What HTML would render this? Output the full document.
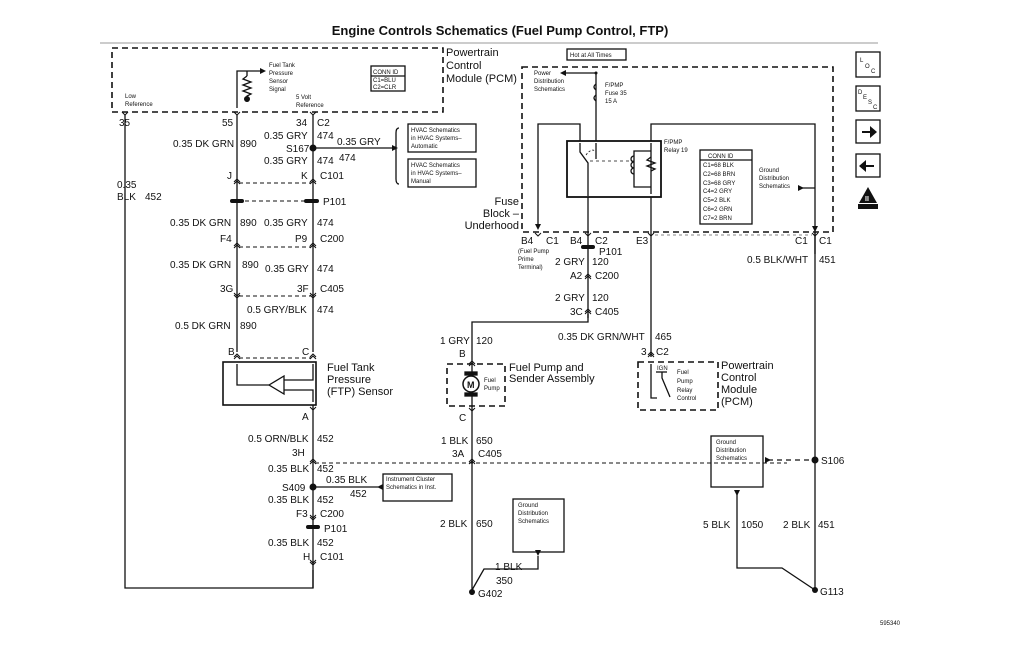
<!DOCTYPE html>
<html><head><meta charset="utf-8"><style>
html,body{margin:0;padding:0;background:#fff}
svg{display:block}
text{font-family:"Liberation Sans",Arial,sans-serif;fill:#111}
.s{font-size:6px}.m{font-size:10px}.l{font-size:11px}
</style></head><body>
<svg width="1029" height="645" viewBox="0 0 1029 645" xmlns="http://www.w3.org/2000/svg">
<defs>
<path id="cu" d="M-3,3 L0,0 L3,3 M-3,5 L0,2 L3,5" fill="none" stroke="#111" stroke-width="1"/>
<path id="cd" d="M-3,-3 L0,0 L3,-3 M-3,-5 L0,-2 L3,-5" fill="none" stroke="#111" stroke-width="1"/>
<path id="cy" d="M-3,-3 L0,0 L3,-3" fill="none" stroke="#111" stroke-width="1"/>
</defs>
<g stroke="#111" fill="none" stroke-width="1.3">
<line x1="100" y1="43" x2="878" y2="43" stroke="#777" stroke-width="0.8"/>
<rect x="112" y="48" width="331" height="64" stroke-dasharray="6,4" stroke-width="1.6"/>
<polyline points="125,115 125,588 313,588 313,570"/>
<line x1="237" y1="115" x2="237" y2="352"/>
<line x1="313" y1="115" x2="313" y2="352"/>
<polyline points="237,108 237,71 260,71"/>
<line x1="247" y1="71" x2="247" y2="76"/>
<polyline points="247,76 243,79 251,82 243,85 251,88 243,91 251,94 247,96 247,102"/>
<line x1="313" y1="148" x2="392" y2="148"/>
<path d="M399,128 q-3,0 -3,5 v14 l-3,1 3,1 v30 q0,5 3,5"/>
<rect x="408" y="124" width="68" height="28"/>
<rect x="408" y="159" width="68" height="28"/>
<rect x="371" y="66" width="34" height="25"/>
<line x1="371" y1="76" x2="405" y2="76"/>
<line x1="239" y1="183" x2="311" y2="183" stroke-dasharray="4,3" stroke-width="0.9"/>
<line x1="245" y1="201" x2="306" y2="201" stroke-dasharray="4,3" stroke-width="0.9"/>
<line x1="239" y1="247" x2="311" y2="247" stroke-dasharray="4,3" stroke-width="0.9"/>
<line x1="239" y1="296" x2="311" y2="296" stroke-dasharray="4,3" stroke-width="0.9"/>
<line x1="239" y1="358" x2="311" y2="358" stroke-dasharray="4,3" stroke-width="0.9"/>
<rect x="223" y="362" width="93" height="43" stroke-width="1.6"/>
<polyline points="237,364 237,385 269,385"/>
<polygon points="269,385 284,376 284,394"/>
<polyline points="284,380 313,380 313,364"/>
<polyline points="284,390 313,390 313,402"/>
<line x1="313" y1="405" x2="313" y2="588"/>
<line x1="315" y1="463" x2="787" y2="463" stroke-dasharray="4,3" stroke-width="0.9"/>
<line x1="313" y1="487" x2="378" y2="487"/>
<rect x="383" y="474" width="69" height="27"/>
<rect x="522" y="67" width="311" height="165" stroke-dasharray="6,4" stroke-width="1.6"/>
<rect x="567" y="49" width="59" height="11"/>
<polyline points="566,73 596,73 596,141"/>
<path d="M596,84 q-4,3 0,6 M596,95 q-4,3 0,6" />
<polyline points="538,227 538,124 580,124 580,141"/>
<polyline points="651,141 651,124 815,124 815,254"/>
<rect x="567" y="141" width="94" height="56" stroke-width="1.8"/>
<polyline points="580,143 580,152 588,163 588,196"/>
<line x1="596" y1="143" x2="596" y2="159"/>
<path d="M586,155 q6,-8 10,-3" stroke-dasharray="2,2" stroke-width="0.8"/>
<line x1="590" y1="161" x2="634" y2="161" stroke-dasharray="3,3" stroke-width="0.8"/>
<polyline points="651,143 651,194"/>
<polyline points="651,151 634,151 634,187 651,187"/>
<path d="M634,156 a3,3 0 0 0 0,6 a3,3 0 0 0 0,6 a3,3 0 0 0 0,6" />
<polyline points="651,157 647,160 655,163 647,166 655,169 651,171"/>
<rect x="700" y="150" width="52" height="74"/>
<line x1="700" y1="160" x2="752" y2="160"/>
<line x1="588" y1="197" x2="588" y2="318"/>
<polyline points="588,314 588,322 472,322 472,595"/>
<line x1="651" y1="197" x2="651" y2="357"/>
<line x1="655" y1="235" x2="812" y2="235" stroke-dasharray="3,3" stroke-width="0.6"/>
<line x1="815" y1="232" x2="815" y2="592"/>
<line x1="798" y1="188" x2="815" y2="188"/>
<rect x="447" y="364" width="58" height="42" stroke-dasharray="6,4" stroke-width="1.6"/>
<circle cx="471" cy="384" r="8" stroke-width="1.5" fill="#fff"/>
<rect x="465" y="372" width="12" height="3" fill="#111"/>
<rect x="465" y="393" width="12" height="3" fill="#111"/>
<rect x="638" y="362" width="80" height="48" stroke-dasharray="6,4" stroke-width="1.6"/>
<polyline points="651,364 651,398 657,398"/>
<line x1="656" y1="372" x2="667" y2="372"/>
<polyline points="662,372 662,378 670,397"/>
<rect x="513" y="499" width="51" height="53"/>
<polyline points="538,556 538,569 484,569 472,590"/>
<rect x="711" y="436" width="52" height="51"/>
<line x1="768" y1="460" x2="815" y2="460" stroke-dasharray="5,4"/>
<polyline points="737,494 737,568 782,568 815,590"/>
<rect x="856" y="52" width="24" height="25"/>
<rect x="856" y="86" width="24" height="25"/>
<rect x="856" y="120" width="24" height="23"/>
<rect x="856" y="154" width="24" height="23"/>
</g>
<g>
<use href="#cy" x="125" y="115"/><use href="#cy" x="237" y="115"/><use href="#cy" x="313" y="115"/>
<use href="#cu" x="237" y="179"/><use href="#cu" x="313" y="179"/>
<use href="#cu" x="237" y="243"/><use href="#cu" x="313" y="243"/>
<use href="#cd" x="237" y="298"/><use href="#cd" x="313" y="298"/>
<use href="#cu" x="237" y="354"/><use href="#cu" x="313" y="354"/>
<use href="#cy" x="313" y="410"/>
<use href="#cu" x="313" y="459"/><use href="#cu" x="472" y="459"/>
<use href="#cd" x="313" y="520"/><use href="#cd" x="313" y="565"/>
<use href="#cy" x="538" y="236"/><use href="#cy" x="588" y="236"/><use href="#cy" x="651" y="236"/><use href="#cy" x="815" y="236"/>
<use href="#cu" x="588" y="274"/><use href="#cu" x="588" y="309"/>
<use href="#cu" x="472" y="361"/><use href="#cy" x="472" y="411"/>
<use href="#cu" x="651" y="352"/>
</g>
<g fill="#111">
<polygon points="260,68 266,71 260,74"/>
<circle cx="247" cy="99" r="3"/>
<circle cx="313" cy="148" r="3.5"/>
<polygon points="392,145 398,148 392,151"/>
<circle cx="313" cy="487" r="3.5"/>
<polygon points="383,484 377,487 383,490"/>
<polygon points="566,70 560,73 566,76"/>
<circle cx="596" cy="73" r="1.5"/>
<polygon points="798,185 804,188 798,191"/>
<circle cx="815" cy="460" r="3.5"/>
<polygon points="765,457 771,460 765,463"/>
<polygon points="535,550 541,550 538,556"/>
<polygon points="734,490 740,490 737,496"/>
<polygon points="535,224 541,224 538,230"/>
<polygon points="812,226 818,226 815,232"/>
<rect x="304" y="199" width="15" height="4" rx="2"/>
<rect x="230" y="199" width="14" height="4" rx="2"/>
<rect x="581" y="245" width="14" height="4" rx="2"/>
<rect x="306" y="525" width="14" height="4" rx="2"/>
<circle cx="472" cy="592" r="3"/>
<circle cx="815" cy="590" r="3"/>
<polygon points="862,131 870,131 870,126 877,132 870,138 870,133 862,133"/>
<polygon points="874,165 866,165 866,160 859,166 866,172 866,167 874,167"/>
<polygon points="868,187 859,203 877,203"/>
<rect x="858" y="204" width="20" height="5"/>
</g>
<g>
<text x="500" y="35" text-anchor="middle" style="font-size:13px;font-weight:bold">Engine Controls Schematics (Fuel Pump Control, FTP)</text>
<text class="s" x="269" y="67">Fuel Tank</text><text class="s" x="269" y="75">Pressure</text><text class="s" x="269" y="83">Sensor</text><text class="s" x="269" y="91">Signal</text>
<text class="s" x="125" y="98">Low</text><text class="s" x="125" y="106">Reference</text>
<text class="s" x="296" y="99">5 Volt</text><text class="s" x="296" y="107">Reference</text>
<text class="s" x="373" y="74">CONN ID</text><text class="s" x="373" y="82">C1=BLU</text><text class="s" x="373" y="89">C2=CLR</text>
<text class="l" x="446" y="56">Powertrain</text><text class="l" x="446" y="69">Control</text><text class="l" x="446" y="82">Module (PCM)</text>
<text class="m" x="119" y="126">35</text><text class="m" x="222" y="126">55</text><text class="m" x="296" y="126">34</text><text class="m" x="317" y="126">C2</text>
<text class="m" x="173" y="147">0.35 DK GRN</text><text class="m" x="240" y="147">890</text>
<text class="m" x="264" y="139">0.35 GRY</text><text class="m" x="317" y="139">474</text>
<text class="m" x="337" y="145">0.35 GRY</text><text class="m" x="339" y="161">474</text>
<text class="m" x="286" y="152">S167</text>
<text class="m" x="264" y="164">0.35 GRY</text><text class="m" x="317" y="164">474</text>
<text class="s" x="411" y="132">HVAC Schematics</text><text class="s" x="411" y="140">in HVAC Systems–</text><text class="s" x="411" y="148">Automatic</text>
<text class="s" x="411" y="167">HVAC Schematics</text><text class="s" x="411" y="175">in HVAC Systems–</text><text class="s" x="411" y="183">Manual</text>
<text class="m" x="227" y="179">J</text><text class="m" x="301" y="179">K</text><text class="m" x="320" y="179">C101</text>
<text class="m" x="117" y="188">0.35</text><text class="m" x="117" y="200">BLK</text><text class="m" x="145" y="200">452</text>
<text class="m" x="323" y="205">P101</text>
<text class="m" x="170" y="226">0.35 DK GRN</text><text class="m" x="240" y="226">890</text><text class="m" x="264" y="226">0.35 GRY</text><text class="m" x="317" y="226">474</text>
<text class="m" x="220" y="242">F4</text><text class="m" x="295" y="242">P9</text><text class="m" x="320" y="242">C200</text>
<text class="m" x="170" y="268">0.35 DK GRN</text><text class="m" x="242" y="268">890</text><text class="m" x="265" y="272">0.35 GRY</text><text class="m" x="317" y="272">474</text>
<text class="m" x="220" y="292">3G</text><text class="m" x="297" y="292">3F</text><text class="m" x="320" y="292">C405</text>
<text class="m" x="247" y="313">0.5 GRY/BLK</text><text class="m" x="317" y="313">474</text>
<text class="m" x="175" y="329">0.5 DK GRN</text><text class="m" x="240" y="329">890</text>
<text class="m" x="228" y="355">B</text><text class="m" x="302" y="355">C</text>
<text class="l" x="327" y="371">Fuel Tank</text><text class="l" x="327" y="383">Pressure</text><text class="l" x="327" y="395">(FTP) Sensor</text>
<text class="m" x="302" y="420">A</text>
<text class="m" x="248" y="442">0.5 ORN/BLK</text><text class="m" x="317" y="442">452</text>
<text class="m" x="292" y="456">3H</text>
<text class="m" x="268" y="472">0.35 BLK</text><text class="m" x="317" y="472">452</text>
<text class="m" x="326" y="483">0.35 BLK</text><text class="m" x="350" y="497">452</text>
<text class="m" x="282" y="491">S409</text>
<text class="s" x="386" y="481">Instrument Cluster</text><text class="s" x="386" y="489">Schematics in Inst.</text>
<text class="m" x="268" y="503">0.35 BLK</text><text class="m" x="317" y="503">452</text>
<text class="m" x="296" y="517">F3</text><text class="m" x="320" y="517">C200</text>
<text class="m" x="324" y="532">P101</text>
<text class="m" x="268" y="546">0.35 BLK</text><text class="m" x="317" y="546">452</text>
<text class="m" x="303" y="560">H</text><text class="m" x="320" y="560">C101</text>
<text class="s" x="570" y="57">Hot at All Times</text>
<text class="s" x="534" y="75">Power</text><text class="s" x="534" y="83">Distribution</text><text class="s" x="534" y="91">Schematics</text>
<text class="s" x="605" y="87">F/PMP</text><text class="s" x="605" y="95">Fuse 35</text><text class="s" x="605" y="103">15 A</text>
<text class="s" x="664" y="144">F/PMP</text><text class="s" x="664" y="152">Relay 19</text>
<text class="s" x="708" y="158">CONN ID</text>
<text class="s" x="703" y="167">C1=68 BLK</text><text class="s" x="703" y="176">C2=68 BRN</text><text class="s" x="703" y="185">C3=68 GRY</text><text class="s" x="703" y="193">C4=2 GRY</text><text class="s" x="703" y="202">C5=2 BLK</text><text class="s" x="703" y="211">C6=2 GRN</text><text class="s" x="703" y="220">C7=2 BRN</text>
<text class="s" x="759" y="172">Ground</text><text class="s" x="759" y="180">Distribution</text><text class="s" x="759" y="188">Schematics</text>
<text class="l" x="519" y="205" text-anchor="end">Fuse</text><text class="l" x="519" y="217" text-anchor="end">Block –</text><text class="l" x="519" y="229" text-anchor="end">Underhood</text>
<text class="m" x="521" y="244">B4</text><text class="m" x="546" y="244">C1</text><text class="m" x="570" y="244">B4</text><text class="m" x="595" y="244">C2</text><text class="m" x="636" y="244">E3</text><text class="m" x="795" y="244">C1</text><text class="m" x="819" y="244">C1</text>
<text class="m" x="599" y="255">P101</text>
<text class="s" x="518" y="253">(Fuel Pump</text><text class="s" x="518" y="261">Prime</text><text class="s" x="518" y="269">Terminal)</text>
<text class="m" x="555" y="265">2 GRY</text><text class="m" x="592" y="265">120</text>
<text class="m" x="570" y="279">A2</text><text class="m" x="595" y="279">C200</text>
<text class="m" x="555" y="301">2 GRY</text><text class="m" x="592" y="301">120</text>
<text class="m" x="570" y="315">3C</text><text class="m" x="595" y="315">C405</text>
<text class="m" x="747" y="263">0.5 BLK/WHT</text><text class="m" x="819" y="263">451</text>
<text class="m" x="440" y="344">1 GRY</text><text class="m" x="476" y="344">120</text>
<text class="m" x="558" y="340">0.35 DK GRN/WHT</text><text class="m" x="655" y="340">465</text>
<text class="m" x="459" y="357">B</text>
<text class="m" x="641" y="355">3</text><text class="m" x="656" y="355">C2</text>
<text class="l" x="509" y="371">Fuel Pump and</text><text class="l" x="509" y="382">Sender Assembly</text>
<text x="467" y="388" style="font-size:9px;font-weight:bold">M</text>
<text class="s" x="484" y="382">Fuel</text><text class="s" x="484" y="390">Pump</text>
<text class="m" x="459" y="421">C</text>
<text class="s" x="657" y="370">IGN</text>
<text class="s" x="677" y="374">Fuel</text><text class="s" x="677" y="383">Pump</text><text class="s" x="677" y="392">Relay</text><text class="s" x="677" y="400">Control</text>
<text class="l" x="721" y="369">Powertrain</text><text class="l" x="721" y="381">Control</text><text class="l" x="721" y="393">Module</text><text class="l" x="721" y="405">(PCM)</text>
<text class="m" x="441" y="444">1 BLK</text><text class="m" x="476" y="444">650</text>
<text class="m" x="452" y="457">3A</text><text class="m" x="478" y="457">C405</text>
<text class="s" x="518" y="507">Ground</text><text class="s" x="518" y="515">Distribution</text><text class="s" x="518" y="523">Schematics</text>
<text class="s" x="716" y="444">Ground</text><text class="s" x="716" y="452">Distribution</text><text class="s" x="716" y="460">Schematics</text>
<text class="m" x="821" y="464">S106</text>
<text class="m" x="440" y="527">2 BLK</text><text class="m" x="476" y="527">650</text>
<text class="m" x="703" y="528">5 BLK</text><text class="m" x="741" y="528">1050</text><text class="m" x="783" y="528">2 BLK</text><text class="m" x="818" y="528">451</text>
<text class="m" x="495" y="570">1 BLK</text><text class="m" x="496" y="584">350</text>
<text class="m" x="478" y="597">G402</text><text class="m" x="820" y="595">G113</text>
<text class="s" x="860" y="62">L</text><text class="s" x="865" y="68">O</text><text class="s" x="871" y="73">C</text>
<text class="s" x="858" y="94">D</text><text class="s" x="863" y="99">E</text><text class="s" x="868" y="104">S</text><text class="s" x="873" y="109">C</text>
<text x="865" y="201" style="font-size:7px;font-weight:bold;fill:#fff">II</text>
<text x="880" y="625" style="font-size:6px">595340</text>
</g>
</svg>
</body></html>
